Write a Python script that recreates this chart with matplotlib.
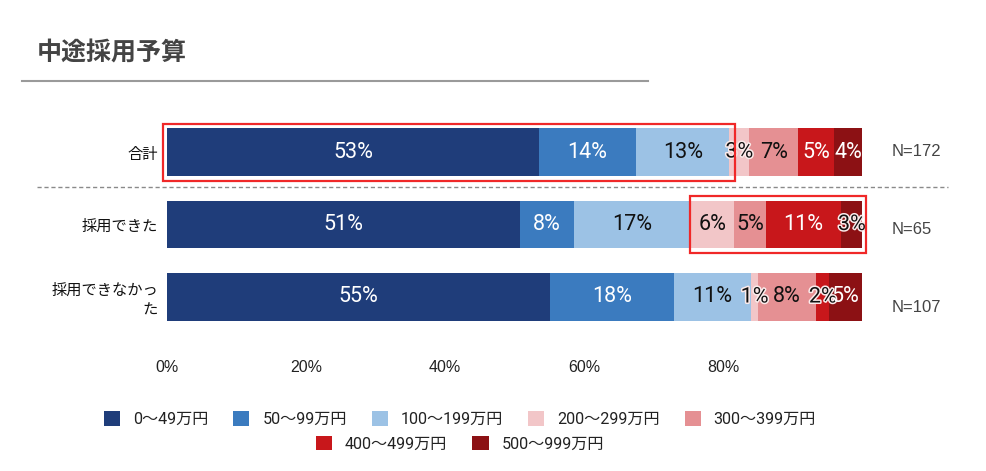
import matplotlib
matplotlib.use("Agg")
import matplotlib.pyplot as plt
import matplotlib.patheffects as pe
from matplotlib.patches import Rectangle, Patch
from matplotlib.lines import Line2D
from matplotlib.font_manager import FontProperties
import numpy as np

# ---- data ----
title = "中途採用予算"
categories = ["合計", "採用できた", "採用できなかっ\nた"]
n_labels = ["N=172", "N=65", "N=107"]
series_names = ["0〜49万円", "50〜99万円", "100〜199万円", "200〜299万円",
                "300〜399万円", "400〜499万円", "500〜999万円"]
# percentages per category (row) for each budget band
row_total = [53.5, 14.0, 13.4, 2.9, 7.0, 5.2, 4.1]
row_hired = [50.8, 7.7, 16.9, 6.2, 4.6, 10.8, 3.1]
row_not_hired = [55.1, 17.8, 11.2, 0.9, 8.4, 1.9, 4.7]
xticks = [0, 20, 40, 60, 80]
xtick_labels = ["0%", "20%", "40%", "60%", "80%"]

colors = ["#1f3d7a", "#3b7bbf", "#9cc2e5", "#f2c6c8", "#e59093", "#c8171b", "#8c1114"]
text_on = ["white", "white", "#111111", "#111111", "#111111", "white", "white"]

rows = [row_total, row_hired, row_not_hired]

fig = plt.figure(figsize=(9.86, 4.71), dpi=100)
W, H = 986, 471
ax = fig.add_axes([167 / W, 1 - 333.25 / H, 695 / W, 217.5 / H])

bar_h = 0.65
for i, vals in enumerate(rows):
    left = 0.0
    for j, v in enumerate(vals):
        ax.barh(i, v, left=left, height=bar_h, color=colors[j], edgecolor="none")
        cx = left + v / 2
        lbl = f"{int(round(v))}%" if abs(v - round(v)) != 0.5 else f"{int(v)}%"
        if v < 3.5:
            t = ax.text(cx, i, lbl, ha="center", va="center", color="#111111",
                        fontsize=15.5, family=["Roboto", "DejaVu Sans"])
            t.set_path_effects([pe.withStroke(linewidth=2.2, foreground="#fbeaea")])
        else:
            ax.text(cx, i, lbl, ha="center", va="center", color=text_on[j],
                    fontsize=15.5, family=["Roboto", "DejaVu Sans"])
        left += v

ax.set_xlim(0, 100)
ax.set_ylim(2.5, -0.5)
ax.set_yticks(range(len(categories)))
ax.set_yticklabels(categories, fontsize=11, family=["Noto Sans CJK JP", "DejaVu Sans"],
                   color="#111111")
ax.set_xticks(xticks)
ax.set_xticklabels(xtick_labels, fontsize=11.5, family=["Liberation Sans", "DejaVu Sans"],
                   color="#222222")
ax.tick_params(axis="x", length=0, pad=19)
ax.tick_params(axis="y", length=0, pad=6.5)
for s in ax.spines.values():
    s.set_visible(False)

# N labels
for i, nl in enumerate(n_labels):
    ax.text(104.3, i * 1.075 - 0.01, nl, ha="left", va="center", fontsize=12,
            family=["Liberation Sans", "DejaVu Sans"], color="#444444", clip_on=False)

# highlight boxes
cum0 = np.cumsum(row_total)
box1 = Rectangle((-0.6, -0.39), cum0[2] + 0.6 + 0.8, 0.79, fill=False,
                 edgecolor="#f02828", linewidth=1.6, clip_on=False, zorder=5)
ax.add_patch(box1)
cum1 = np.cumsum(row_hired)
box2 = Rectangle((cum1[2] - 0.1, 1 - 0.4), 100.6 - cum1[2] + 0.1, 0.79, fill=False,
                 edgecolor="#f02828", linewidth=1.6, clip_on=False, zorder=5)
ax.add_patch(box2)

# title + underline
fig.text(37 / W, 1 - 54 / H, title, fontsize=18, fontweight="bold", color="#444444",
         va="center", ha="left", family=["Noto Sans CJK JP", "DejaVu Sans"])
fig.add_artist(Line2D([22 / W, 648 / W], [1 - 81 / H, 1 - 81 / H], color="#9a9a9a",
                      linewidth=1.5, transform=fig.transFigure))
# dashed separator
fig.add_artist(Line2D([37 / W, 948 / W], [1 - 187 / H, 1 - 187 / H], color="#8a8a8a",
                      linewidth=1, linestyle=(0, (3, 2)), transform=fig.transFigure))

# legend
lp = FontProperties(family=["Roboto", "Noto Sans CJK JP"], size=11.6)
handles = [Patch(facecolor=c, edgecolor="none") for c in colors]
leg1 = fig.legend(handles[:5], series_names[:5], loc="center",
                  bbox_to_anchor=(460 / W, 1 - 419 / H), ncol=5, frameon=False,
                  prop=lp, handlelength=1.0, handleheight=1.0, handletextpad=0.8,
                  columnspacing=1.55, borderpad=0)
leg2 = fig.legend(handles[5:], series_names[5:], loc="center",
                  bbox_to_anchor=(460 / W, 1 - 443.5 / H), ncol=2, frameon=False,
                  prop=lp, handlelength=1.0, handleheight=1.0, handletextpad=0.8,
                  columnspacing=1.55, borderpad=0)
for lg in (leg1, leg2):
    for t in lg.get_texts():
        t.set_color("#222222")

fig.savefig("out.png", dpi=100)
